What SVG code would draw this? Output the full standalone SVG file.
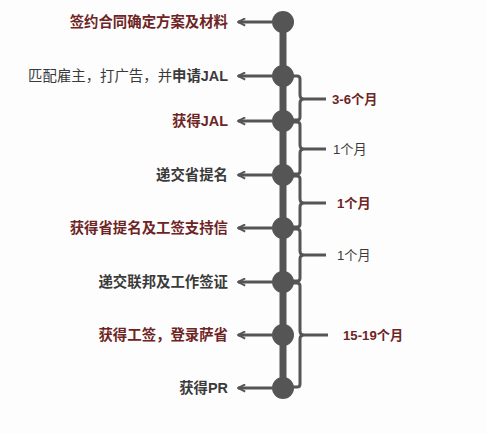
<svg xmlns="http://www.w3.org/2000/svg" width="487" height="434" viewBox="0 0 487 434">
<style>
text{font-family:"Liberation Sans","Noto Sans CJK SC",sans-serif;font-size:14.4px}
.r{fill:#6e2424;font-weight:bold}
.g{fill:#3a3a3a;font-weight:bold}
.n{fill:#3a3a3a;font-weight:normal}
.s{font-size:13.2px}
.ln{stroke:#555;stroke-width:3;fill:none}
.dot{fill:#555}
</style>
<defs>
<marker id="ah" viewBox="0 0 10 10" refX="9" refY="5" markerWidth="3" markerHeight="3" orient="auto">
<path d="M1,1 L9,5 L1,9" fill="none" stroke="#555" stroke-width="2.2"/>
</marker>
</defs>
<rect width="487" height="434" fill="#fdfdfd"/>
<g id="connectors">
<line x1="283" y1="22" x2="283" y2="388" stroke="#555" stroke-width="7"/>
<g class="ln">
<line x1="272" y1="22" x2="238" y2="22" marker-end="url(#ah)"/>
<line x1="272" y1="76" x2="238" y2="76" marker-end="url(#ah)"/>
<line x1="272" y1="121" x2="238" y2="121" marker-end="url(#ah)"/>
<line x1="272" y1="175" x2="238" y2="175" marker-end="url(#ah)"/>
<line x1="272" y1="228" x2="238" y2="228" marker-end="url(#ah)"/>
<line x1="272" y1="282" x2="238" y2="282" marker-end="url(#ah)"/>
<line x1="272" y1="335" x2="238" y2="335" marker-end="url(#ah)"/>
<line x1="272" y1="388" x2="238" y2="388" marker-end="url(#ah)"/>
<path d="M291,76 H297 Q300,76 300,79 V95 Q300,99 304,99 H326 M304,99 Q300,99 300,103 V117 Q300,120 297,120 H291"/>
<path d="M291,122 H297 Q300,122 300,125 V145 Q300,149 304,149 H326 M304,149 Q300,149 300,153 V171 Q300,174 297,174 H291"/>
<path d="M291,176 H297 Q300,176 300,179 V199 Q300,203 304,203 H326 M304,203 Q300,203 300,207 V224 Q300,227 297,227 H291"/>
<path d="M291,229 H297 Q300,229 300,232 V251 Q300,255 304,255 H326 M304,255 Q300,255 300,259 V278 Q300,281 297,281 H291"/>
<path d="M291,283 H297 Q300,283 300,286 V331 Q300,335 304,335 H328 M304,335 Q300,335 300,339 V384 Q300,387 297,387 H291"/>
</g>
</g>
<g id="n1"><circle class="dot" cx="283" cy="22" r="11"/><text class="r" x="228" y="27" text-anchor="end">签约合同确定方案及材料</text></g>
<g id="n2"><circle class="dot" cx="283" cy="76" r="11"/><text class="n" x="228" y="81" text-anchor="end">匹配雇主，打广告，并<tspan font-weight="bold">申请JAL</tspan></text></g>
<g id="n3"><circle class="dot" cx="283" cy="121" r="11"/><text class="r" x="228" y="126" text-anchor="end">获得JAL</text></g>
<g id="n4"><circle class="dot" cx="283" cy="175" r="11"/><text class="g" x="228" y="180" text-anchor="end">递交省提名</text></g>
<g id="n5"><circle class="dot" cx="283" cy="228" r="11"/><text class="r" x="228" y="233" text-anchor="end">获得省提名及工签支持信</text></g>
<g id="n6"><circle class="dot" cx="283" cy="282" r="11"/><text class="g" x="228" y="287" text-anchor="end">递交联邦及工作签证</text></g>
<g id="n7"><circle class="dot" cx="283" cy="335" r="11"/><text class="r" x="228" y="340" text-anchor="end">获得工签，登录萨省</text></g>
<g id="n8"><circle class="dot" cx="283" cy="388" r="11"/><text class="g" x="228" y="393" text-anchor="end">获得PR</text></g>
<g id="d1"><text class="r s" x="332" y="104">3-6个月</text></g>
<g id="d2"><text class="n s" x="333" y="154">1个月</text></g>
<g id="d3"><text class="r s" x="337" y="208">1个月</text></g>
<g id="d4"><text class="n s" x="337" y="260">1个月</text></g>
<g id="d5"><text class="r s" x="343" y="340">15-19个月</text></g>
</svg>
